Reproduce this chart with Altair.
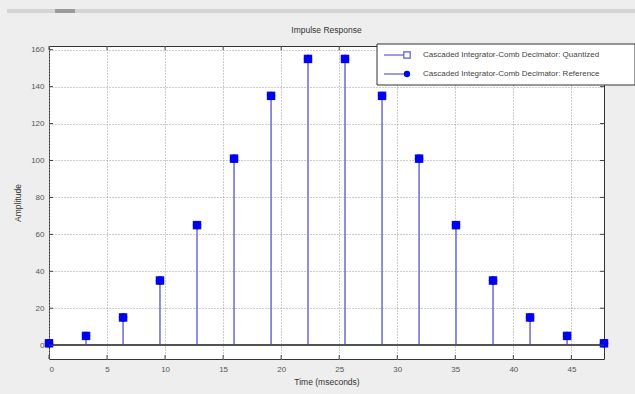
import altair as alt
import pandas as pd

# ---- data ----
time_ms = [0.0, 3.19, 6.38, 9.56, 12.75, 15.94, 19.13, 22.31,
           25.5, 28.69, 31.88, 35.06, 38.25, 41.44, 44.63, 47.81]
amplitude = [1, 5, 15, 35, 65, 101, 135, 155,
             155, 135, 101, 65, 35, 15, 5, 1]
x_ticks = [0, 5, 10, 15, 20, 25, 30, 35, 40, 45]
y_ticks = [0, 20, 40, 60, 80, 100, 120, 140, 160]
legend_labels = ["Cascaded Integrator-Comb Decimator: Quantized",
                 "Cascaded Integrator-Comb Decimator: Reference"]
title_text = ["Impulse Response"]
x_title = "Time (mseconds)"
y_title = "Amplitude"

FONT = "Liberation Sans"
W, H = 555, 313
X_DOM = [0, 47.81]
Y_DOM = [-7.5, 162]

df = pd.DataFrame({"t": time_ms, "a": amplitude, "zero": [0] * len(time_ms)})
xt = pd.DataFrame({"v": x_ticks})
yt = pd.DataFrame({"v": y_ticks})

xs = alt.Scale(domain=X_DOM, nice=False, zero=False)
ys = alt.Scale(domain=Y_DOM, nice=False, zero=False)

x_axis = alt.Axis(values=x_ticks, title=x_title, grid=True, gridDash=[1, 2],
                  gridColor="#9a9a9a", gridOpacity=1, domain=False, ticks=False,
                  labelFont=FONT, labelFontSize=8, labelColor="#555",
                  labelPadding=6, titleFont=FONT, titleFontSize=8.5,
                  titleFontWeight="normal", titleColor="#333", titlePadding=4)
y_axis = alt.Axis(values=y_ticks, title=y_title, grid=True, gridDash=[1, 2],
                  gridColor="#9a9a9a", gridOpacity=1, domain=False, ticks=False,
                  labelFont=FONT, labelFontSize=8, labelColor="#555",
                  labelPadding=5, titleFont=FONT, titleFontSize=8.5,
                  titleFontWeight="normal", titleColor="#333", titlePadding=8)


def X(f):
    return alt.X(f, scale=xs, axis=x_axis)


def Y(f):
    return alt.Y(f, scale=ys, axis=y_axis)


base = alt.Chart(df)

stems = base.mark_rule(color="#7272dc", strokeWidth=1.6).encode(
    x=X("t:Q"), y=Y("zero:Q"), y2="a:Q",
)

zero_line = base.mark_rule(color="#555555", strokeWidth=1).encode(
    x=alt.value(0), x2=alt.value(W), y=Y("zero:Q"),
)

squares = base.mark_point(shape="square", filled=True, size=72,
                          color="#0a0ae6", opacity=1).encode(
    x=X("t:Q"), y=Y("a:Q"),
)
circles = base.mark_point(shape="circle", filled=True, size=70,
                          color="#0000f0", opacity=1).encode(
    x=X("t:Q"), y=Y("a:Q"),
)

# inward ticks (MATLAB style)
xtick_b = alt.Chart(xt).mark_rule(color="#444").encode(
    x=X("v:Q"), y=alt.value(H), y2=alt.value(H - 4))
xtick_t = alt.Chart(xt).mark_rule(color="#444").encode(
    x=X("v:Q"), y=alt.value(0), y2=alt.value(4))
ytick_l = alt.Chart(yt).mark_rule(color="#444").encode(
    y=Y("v:Q"), x=alt.value(0), x2=alt.value(4))
ytick_r = alt.Chart(yt).mark_rule(color="#444").encode(
    y=Y("v:Q"), x=alt.value(W), x2=alt.value(W - 4))

one = pd.DataFrame({"k": [0]})

# toolbar strip at the very top of the figure window
strip = alt.Chart(one).mark_rule(color="#d4d4d4", strokeWidth=4).encode(
    x=alt.value(-42), x2=alt.value(586), y=alt.value(-35))
strip_dark = alt.Chart(one).mark_rule(color="#9a9a9a", strokeWidth=4).encode(
    x=alt.value(6), x2=alt.value(26), y=alt.value(-35))

# title as text
title = alt.Chart(pd.DataFrame({"title": title_text})).mark_text(
    font=FONT, fontSize=8.5, color="#333", align="center",
    baseline="alphabetic").encode(
    x=alt.value(W / 2), y=alt.value(-13), text="title:N")

# legend box (drawn manually to show line + marker)
LX0, LX1, LY0, LY1 = 328, 586, -2, 39
legend_box = alt.Chart(one).mark_rect(
    fill="white", stroke="#333", strokeWidth=1).encode(
    x=alt.value(LX0), x2=alt.value(LX1), y=alt.value(LY0), y2=alt.value(LY1))

rows = []
row_y = [9, 28]
for i, lab in enumerate(legend_labels):
    d = alt.Chart(pd.DataFrame({"label": [lab]}))
    rows.append(d.mark_rule(color="#5a5ad8", strokeWidth=1.2).encode(
        x=alt.value(LX0 + 7), x2=alt.value(LX0 + 30), y=alt.value(row_y[i])))
    if i == 0:
        rows.append(d.mark_point(shape="square", filled=True, fill="white",
                                 stroke="#5a5ad8", strokeWidth=1.2, size=40,
                                 opacity=1).encode(
            x=alt.value(LX0 + 30), y=alt.value(row_y[i])))
    else:
        rows.append(d.mark_point(shape="circle", filled=True, color="#0000f0",
                                 size=40, opacity=1).encode(
            x=alt.value(LX0 + 30), y=alt.value(row_y[i])))
    rows.append(d.mark_text(align="left", baseline="middle", font=FONT,
                            fontSize=8, color="#444").encode(
        x=alt.value(LX0 + 46), y=alt.value(row_y[i]), text="label:N"))

chart = alt.layer(
    stems, zero_line, squares, circles,
    xtick_b, xtick_t, ytick_l, ytick_r,
    strip, strip_dark, title, legend_box, *rows,
).properties(
    width=W, height=H,
    background="#eeeeee",
    autosize=alt.AutoSizeParams(type="none"),
    padding={"left": 49, "top": 46, "right": 31, "bottom": 35},
).configure_view(
    fill="white", stroke="#333", strokeWidth=1,
)

chart.save("out.html", embed_options={"renderer": "svg", "actions": False})
